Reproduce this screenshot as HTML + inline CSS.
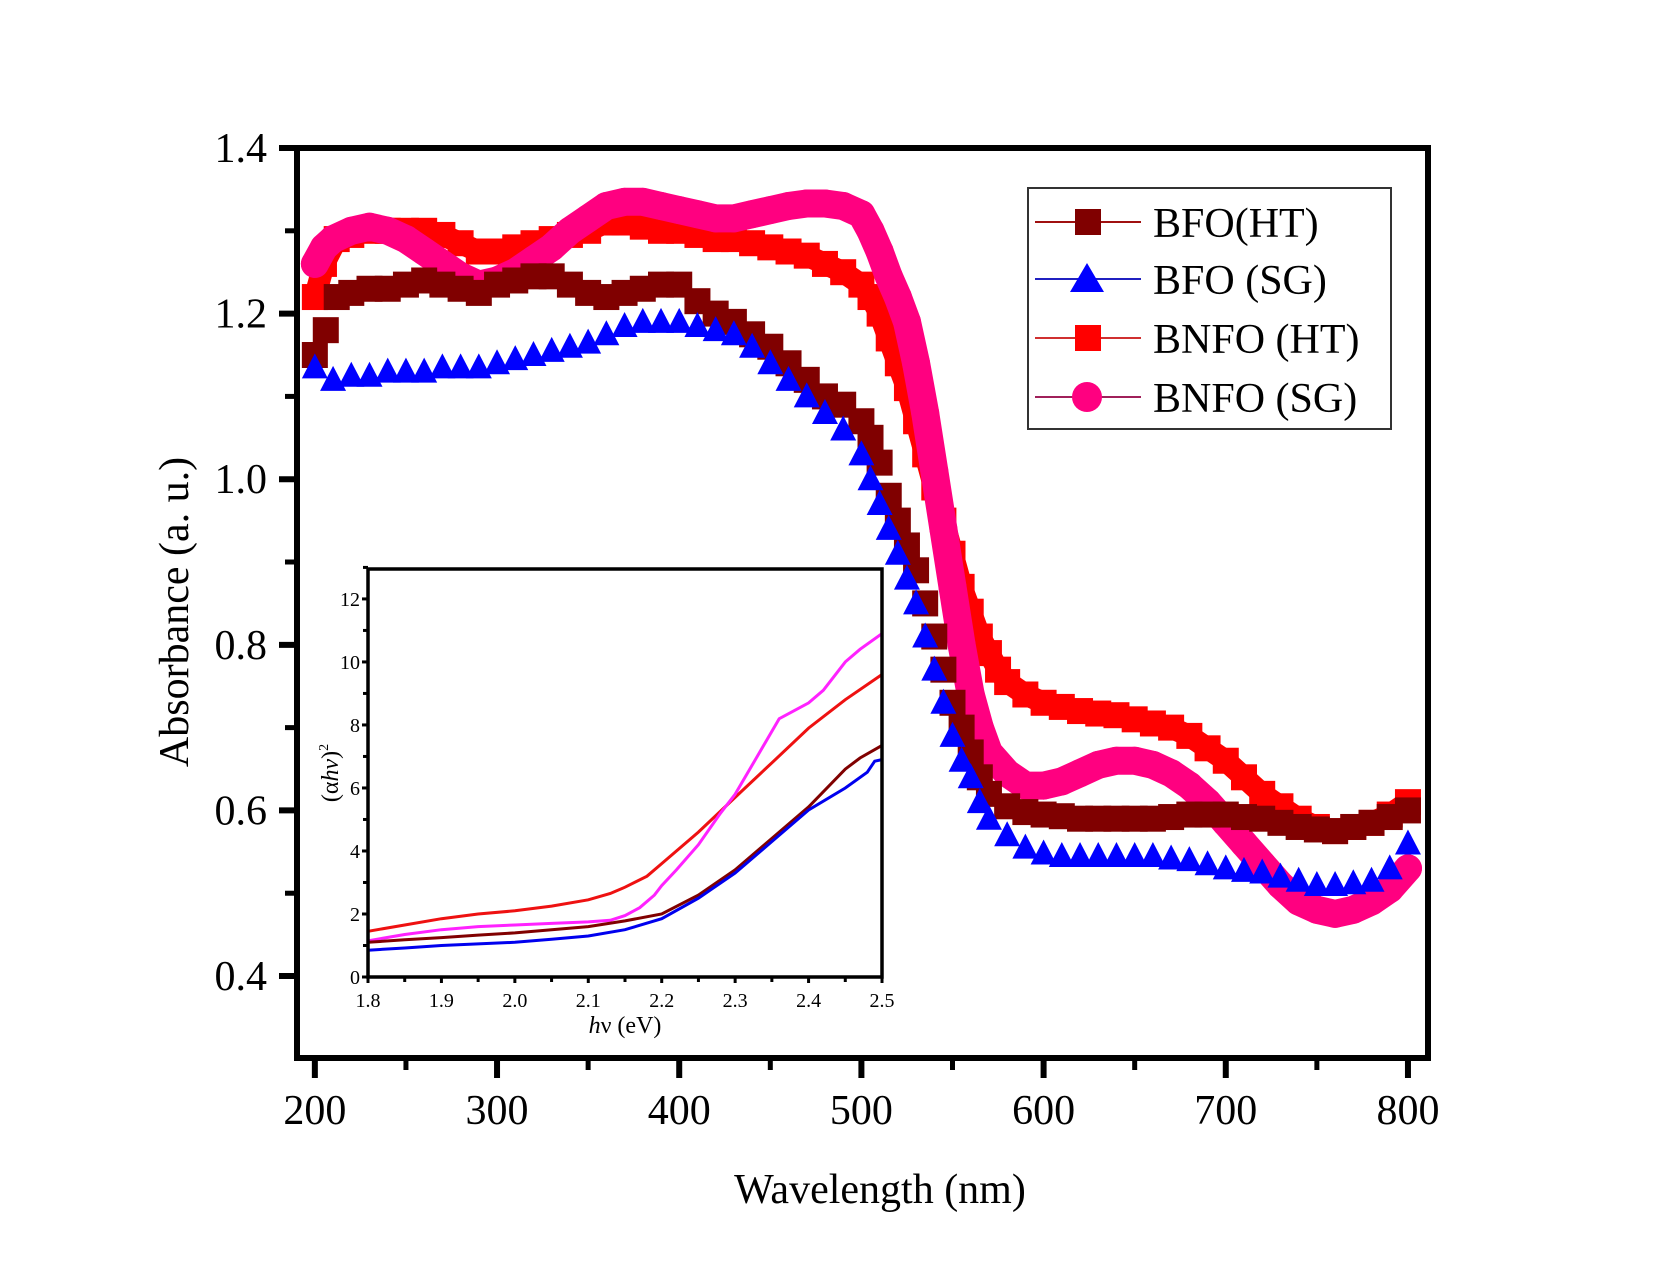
<!DOCTYPE html>
<html><head><meta charset="utf-8"><style>
html,body{margin:0;padding:0;background:#fff}
svg{display:block}
text{font-family:"Liberation Serif",serif;fill:#000}
</style></head><body>
<svg id="chart" width="1658" height="1269" viewBox="0 0 1658 1269" xmlns="http://www.w3.org/2000/svg">
<rect width="1658" height="1269" fill="#fff"/>
<g id="main-marks"></g>
<g id="inset"></g>
<g id="axes"></g>
<g id="legend"></g>
<text x="0" y="0" font-size="42" text-anchor="middle" transform="translate(188,612) rotate(-90)">Absorbance (a. u.)</text>
<text x="880" y="1203" font-size="42" text-anchor="middle">Wavelength (nm)</text>
</svg>
<script>
// ---- main chart data ----
const xTicks = [200,300,400,500,600,700,800];
const yTicks = [0.4,0.6,0.8,1.0,1.2,1.4];
const yTickLabels = ["0.4","0.6","0.8","1.0","1.2","1.4"];
const seriesNames = ["BFO(HT)","BFO (SG)","BNFO (HT)","BNFO (SG)"];
const bfoHtX = [200,206,212,220,230,240,250,260,270,280,290,300,310,320,330,340,350,360,370,380,390,400,410,420,430,440,450,460,470,480,490,500,505,510,515,520,525,530,535,540,545,550,555,560,565,570,580,590,600,610,620,630,640,650,660,670,680,690,700,710,720,730,740,750,760,770,780,790,800];
const bfoHtY = [1.15,1.18,1.22,1.225,1.23,1.23,1.235,1.24,1.235,1.23,1.225,1.235,1.24,1.245,1.245,1.235,1.225,1.22,1.225,1.23,1.235,1.235,1.215,1.20,1.19,1.175,1.16,1.14,1.12,1.10,1.09,1.07,1.05,1.02,0.98,0.95,0.92,0.89,0.85,0.81,0.77,0.73,0.70,0.67,0.64,0.62,0.605,0.598,0.595,0.593,0.59,0.59,0.59,0.59,0.59,0.592,0.595,0.595,0.595,0.592,0.59,0.585,0.58,0.577,0.575,0.58,0.585,0.592,0.60];
const bfoSgX = [200,210,220,230,240,250,260,270,280,290,300,310,320,330,340,350,360,370,380,390,400,410,420,430,440,450,460,470,480,490,500,505,510,515,520,525,530,535,540,545,550,555,560,565,570,580,590,600,610,620,630,640,650,660,670,680,690,700,710,720,730,740,750,760,770,780,790,800];
const bfoSgY = [1.135,1.12,1.125,1.125,1.13,1.13,1.13,1.135,1.135,1.135,1.14,1.145,1.15,1.155,1.16,1.165,1.175,1.185,1.19,1.19,1.19,1.185,1.18,1.175,1.16,1.14,1.12,1.10,1.08,1.06,1.03,1.00,0.97,0.94,0.91,0.88,0.85,0.81,0.77,0.73,0.69,0.66,0.64,0.61,0.59,0.57,0.555,0.548,0.545,0.545,0.545,0.545,0.545,0.545,0.542,0.54,0.535,0.53,0.527,0.525,0.52,0.515,0.51,0.51,0.512,0.515,0.53,0.56];
const bnfoHtX = [200,205,212,220,230,240,250,260,270,280,290,300,310,320,330,340,350,360,370,380,390,400,410,420,430,440,450,460,470,480,490,500,505,510,515,520,525,530,535,540,545,550,555,560,565,570,575,580,590,600,610,620,630,640,650,660,670,680,690,700,710,720,730,740,750,760,770,780,790,800];
const bnfoHtY = [1.22,1.26,1.29,1.295,1.30,1.30,1.30,1.30,1.295,1.285,1.275,1.275,1.28,1.285,1.29,1.295,1.30,1.31,1.31,1.305,1.30,1.30,1.295,1.29,1.29,1.285,1.28,1.275,1.27,1.26,1.25,1.235,1.22,1.20,1.17,1.14,1.11,1.07,1.03,0.99,0.95,0.91,0.87,0.84,0.81,0.79,0.77,0.755,0.74,0.73,0.725,0.72,0.717,0.715,0.71,0.705,0.70,0.69,0.675,0.66,0.64,0.62,0.605,0.59,0.58,0.575,0.58,0.585,0.595,0.61];
const bnfoSgX = [200,205,210,220,230,240,250,260,270,280,290,300,310,320,330,340,350,360,370,380,390,400,410,420,430,440,450,460,470,480,490,500,505,510,515,520,525,530,535,540,545,550,555,560,565,570,580,590,600,610,620,630,640,650,660,670,680,690,700,710,720,730,740,750,760,770,780,790,800];
const bnfoSgY = [1.26,1.28,1.29,1.30,1.305,1.30,1.29,1.275,1.26,1.245,1.235,1.24,1.25,1.265,1.28,1.30,1.315,1.33,1.335,1.335,1.33,1.325,1.32,1.315,1.315,1.32,1.325,1.33,1.333,1.333,1.33,1.32,1.30,1.275,1.245,1.22,1.19,1.14,1.08,1.01,0.94,0.87,0.80,0.74,0.70,0.67,0.645,0.63,0.63,0.635,0.645,0.655,0.66,0.66,0.655,0.645,0.63,0.61,0.585,0.56,0.535,0.51,0.49,0.48,0.475,0.48,0.49,0.505,0.53];

// ---- inset data ----
const insetXTicks = [1.8,1.9,2.0,2.1,2.2,2.3,2.4,2.5];
const insetXTickLabels = ["1.8","1.9","2.0","2.1","2.2","2.3","2.4","2.5"];
const insetYTicks = [0,2,4,6,8,10,12];
const inRedX = [1.8,1.85,1.9,1.95,2.0,2.05,2.1,2.13,2.15,2.18,2.2,2.25,2.3,2.35,2.4,2.45,2.5];
const inRedY = [1.45,1.65,1.85,2.0,2.1,2.25,2.45,2.65,2.85,3.2,3.6,4.6,5.7,6.8,7.9,8.8,9.6];
const inMagX = [1.8,1.85,1.9,1.95,2.0,2.05,2.1,2.13,2.15,2.17,2.19,2.2,2.22,2.25,2.28,2.3,2.33,2.36,2.38,2.4,2.42,2.45,2.47,2.5];
const inMagY = [1.15,1.35,1.5,1.6,1.65,1.7,1.75,1.8,1.95,2.2,2.6,2.9,3.4,4.2,5.2,5.8,7.0,8.2,8.45,8.7,9.1,10.0,10.4,10.9];
const inBrnX = [1.8,1.85,1.9,1.95,2.0,2.05,2.1,2.15,2.2,2.25,2.3,2.35,2.4,2.45,2.47,2.5];
const inBrnY = [1.1,1.18,1.25,1.33,1.4,1.5,1.6,1.78,2.0,2.6,3.4,4.4,5.4,6.6,6.95,7.35];
const inBluX = [1.8,1.85,1.9,1.95,2.0,2.05,2.1,2.15,2.2,2.25,2.3,2.35,2.4,2.45,2.48,2.49,2.5];
const inBluY = [0.85,0.92,1.0,1.05,1.1,1.2,1.3,1.5,1.85,2.5,3.3,4.3,5.3,6.0,6.5,6.85,6.9];

const NS = "http://www.w3.org/2000/svg";
function mk(tag, attrs, parent){const e=document.createElementNS(NS,tag);for(const k in attrs)e.setAttribute(k,attrs[k]);parent.appendChild(e);return e;}

// main axis functions
const X0=297,X1=1428,Y0=1058,Y1=148;
const xmin=190.2,xmax=811,ymin=0.301,ymax=1.4;
const sx=v=>X0+(v-xmin)/(xmax-xmin)*(X1-X0);
const sy=v=>Y0-(v-ymin)/(ymax-ymin)*(Y0-Y1);

const marks=document.getElementById('main-marks');
function pathD(xs,ys,fx,fy){return xs.map((x,i)=>(i?'L':'M')+fx(x).toFixed(1)+' '+fy(ys[i]).toFixed(1)).join(' ');}

// BNFO(HT) red squares
let g=mk('g',{},marks);


mk('path',{d:pathD(bnfoHtX,bnfoHtY,sx,sy),fill:'none',stroke:'#ff0000','stroke-width':22,'stroke-linejoin':'round'},g);
bnfoHtX.forEach((x,i)=>{const r=mk('rect',{x:sx(x)-13,y:sy(bnfoHtY[i])-13,width:26,height:26,fill:'#ff0000'},g);

});

// BNFO(SG) pink circles
g=mk('g',{},marks);


mk('path',{d:pathD(bnfoSgX,bnfoSgY,sx,sy),fill:'none',stroke:'#ff0080','stroke-width':28,'stroke-linejoin':'round','stroke-linecap':'round'},g);
bnfoSgX.forEach((x,i)=>{const c=mk('circle',{cx:sx(x),cy:sy(bnfoSgY[i]),r:14,fill:'#ff0080'},g);

});

// BFO(HT) brown squares
g=mk('g',{},marks);


bfoHtX.forEach((x,i)=>{const r=mk('rect',{x:sx(x)-13,y:sy(bfoHtY[i])-13,width:26,height:26,fill:'#800000'},g);

});

// BFO(SG) blue triangles
g=mk('g',{},marks);


bfoSgX.forEach((x,i)=>{const cx=sx(x),cy=sy(bfoSgY[i]);
const p=mk('polygon',{points:`${cx-13},${cy+11} ${cx+13},${cy+11} ${cx},${cy-14}`,fill:'#0000ff'},g);

});

// main axes
const ax=document.getElementById('axes');
mk('rect',{x:X0,y:Y1,width:X1-X0,height:Y0-Y1,fill:'none',stroke:'#000','stroke-width':6},ax);
yTicks.forEach((v,i)=>{const y=sy(v);
mk('line',{x1:X0-18,y1:y,x2:X0,y2:y,stroke:'#000','stroke-width':6},ax);
const t=mk('text',{x:X0-30,y:y+14,'font-size':42,'text-anchor':'end'},ax);t.textContent=yTickLabels[i];


if(i<yTicks.length-1){const ym=sy(v+0.1);mk('line',{x1:X0-12,y1:ym,x2:X0,y2:ym,stroke:'#000','stroke-width':5},ax);}
});
xTicks.forEach((v,i)=>{const x=sx(v);
mk('line',{x1:x,y1:Y0,x2:x,y2:Y0+20,stroke:'#000','stroke-width':6},ax);
const t=mk('text',{x:x,y:Y0+66,'font-size':42,'text-anchor':'middle'},ax);t.textContent=String(v);


if(i<xTicks.length-1){const xm=sx(v+50);mk('line',{x1:xm,y1:Y0,x2:xm,y2:Y0+12,stroke:'#000','stroke-width':5},ax);}
});

// inset
const IX0=368,IX1=882,IY0=977,IY1=569;
const ixmin=1.8,ixmax=2.5,iymin=0,iymax=12.95;
const isx=v=>IX0+(v-ixmin)/(ixmax-ixmin)*(IX1-IX0);
const isy=v=>IY0-(v-iymin)/(iymax-iymin)*(IY0-IY1);
const inset=document.getElementById('inset');
mk('rect',{x:IX0,y:IY1,width:IX1-IX0,height:IY0-IY1,fill:'#fff',stroke:'none'},inset);
[[inRedX,inRedY,'#ee1111','inset-line-bnfo-ht'],[inMagX,inMagY,'#ff22ff','inset-line-bnfo-sg'],[inBrnX,inBrnY,'#800000','inset-line-bfo-ht'],[inBluX,inBluY,'#0000ee','inset-line-bfo-sg']].forEach(s=>{
const p=mk('path',{d:pathD(s[0],s[1],isx,isy),fill:'none',stroke:s[2],'stroke-width':3},inset);

});
mk('rect',{x:IX0,y:IY1,width:IX1-IX0,height:IY0-IY1,fill:'none',stroke:'#000','stroke-width':3.5},inset);
insetYTicks.forEach((v,i)=>{const y=isy(v);
mk('line',{x1:IX0-6,y1:y,x2:IX0,y2:y,stroke:'#000','stroke-width':3},inset);
const t=mk('text',{x:IX0-8,y:y+7,'font-size':20,'text-anchor':'end'},inset);t.textContent=String(v);


const ym=isy(v+1);mk('line',{x1:IX0-5,y1:ym,x2:IX0,y2:ym,stroke:'#000','stroke-width':3},inset);
});
insetXTicks.forEach((v,i)=>{const x=isx(v);
mk('line',{x1:x,y1:IY0,x2:x,y2:IY0+6,stroke:'#000','stroke-width':3},inset);
const t=mk('text',{x:x,y:IY0+30,'font-size':20,'text-anchor':'middle'},inset);t.textContent=insetXTickLabels[i];


if(i<insetXTicks.length-1){const xm=isx(v+0.05);mk('line',{x1:xm,y1:IY0,x2:xm,y2:IY0+5,stroke:'#000','stroke-width':3},inset);}
});
let it=mk('text',{x:(IX0+IX1)/2,y:IY0+56,'font-size':24,'text-anchor':'middle'},inset);
it.innerHTML='<tspan font-style="italic">h</tspan>ν (eV)';


it=mk('text',{x:0,y:0,'font-size':24,'text-anchor':'middle',transform:`translate(338,${(IY0+IY1)/2}) rotate(-90)`},inset);
it.innerHTML='(α<tspan font-style="italic">hν</tspan>)<tspan font-size="14" dy="-10">2</tspan>';



// legend
const lg=document.getElementById('legend');
mk('rect',{x:1028,y:188,width:363,height:241,fill:'#fff',stroke:'#333','stroke-width':2},lg);
const legColors=['#800000','#0000ff','#ff0000','#ff0080'];
const legLine=['#a01010','#2020c0','#d03030','#a0205a'];
const legY=[222,279,338,397];
seriesNames.forEach((n,i)=>{const y=legY[i];
const e=mk('g',{},lg);


mk('line',{x1:1035,y1:y,x2:1141,y2:y,stroke:legLine[i],'stroke-width':2},e);
if(i===1)mk('polygon',{points:`1070,${y+13} 1104,${y+13} 1087,${y-16}`,fill:legColors[i]},e);
else if(i===3)mk('circle',{cx:1087,cy:y,r:15,fill:legColors[i]},e);
else mk('rect',{x:1075,y:y-13,width:26,height:26,fill:legColors[i]},e);
const t=mk('text',{x:1153,y:y+15,'font-size':42},e);t.textContent=n;});
</script>
</body></html>
